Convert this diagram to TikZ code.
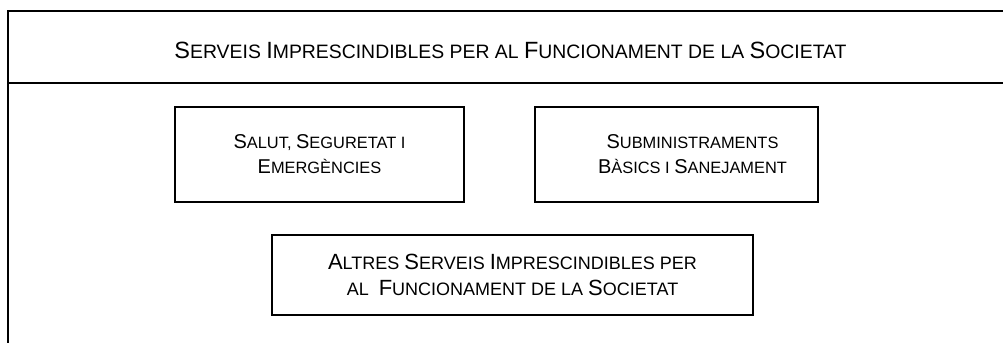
\documentclass[tikz,border=0pt]{standalone}
\usepackage{fontspec}
\setmainfont{Liberation Sans}
\newcommand\Hb[1]{{\fontsize{23.5}{28}\selectfont #1}}
\newcommand\Bb[1]{{\fontsize{20}{25}\selectfont #1}}
\newcommand\Cb[1]{{\fontsize{22}{26}\selectfont #1}}
\begin{document}
\begin{tikzpicture}[x=1pt,y=-1pt,
  frame/.style={line width=1.6pt},
  boxnode/.style={draw, line width=1.3pt, inner sep=0pt},
  boxtext/.style={align=center, inner sep=0pt, font=\fontsize{16.4}{25}\selectfont},
]
\useasboundingbox (0,0) rectangle (1003,343);
\coordinate (tl) at (8,11);
\coordinate (tr) at (1003,11);
\coordinate (ml) at (8,83);
\coordinate (mr) at (1003,83);
\coordinate (bl) at (8,343);
\draw[frame] (tr) -- (tl) -- (bl);
\draw[frame] (ml) -- (mr);
\node[font=\fontsize{19.4}{23}\selectfont, anchor=base, inner sep=0pt] (title) at (510.5,58)
  {\Hb{S}ERVEIS \Hb{I}MPRESCINDIBLES PER AL \Hb{F}UNCIONAMENT DE LA \Hb{S}OCIETAT};
\node[boxnode, minimum width=289pt, minimum height=95pt] (salut) at (319.5,154.5) {};
\node[boxtext] (salutt) at (salut.center)
  {\Bb{S}ALUT, \Bb{S}EGURETAT I\\\Bb{E}MERGÈNCIES};
\node[boxnode, minimum width=283pt, minimum height=95pt] (subm) at (676.5,154.5) {};
\node[boxtext, xshift=16pt] (submt) at (subm.center)
  {\Bb{S}UBMINISTRAMENTS\\\Bb{B}ÀSICS I \Bb{S}ANEJAMENT};
\node[boxnode, minimum width=481pt, minimum height=80pt] (altres) at (512.5,275) {};
\node[boxtext, font=\fontsize{18}{26}\selectfont] (altrest) at (altres.center)
  {\Cb{A}LTRES \Cb{S}ERVEIS \Cb{I}MPRESCINDIBLES PER\\AL\ \ \Cb{F}UNCIONAMENT DE LA \Cb{S}OCIETAT};
\end{tikzpicture}
\end{document}
